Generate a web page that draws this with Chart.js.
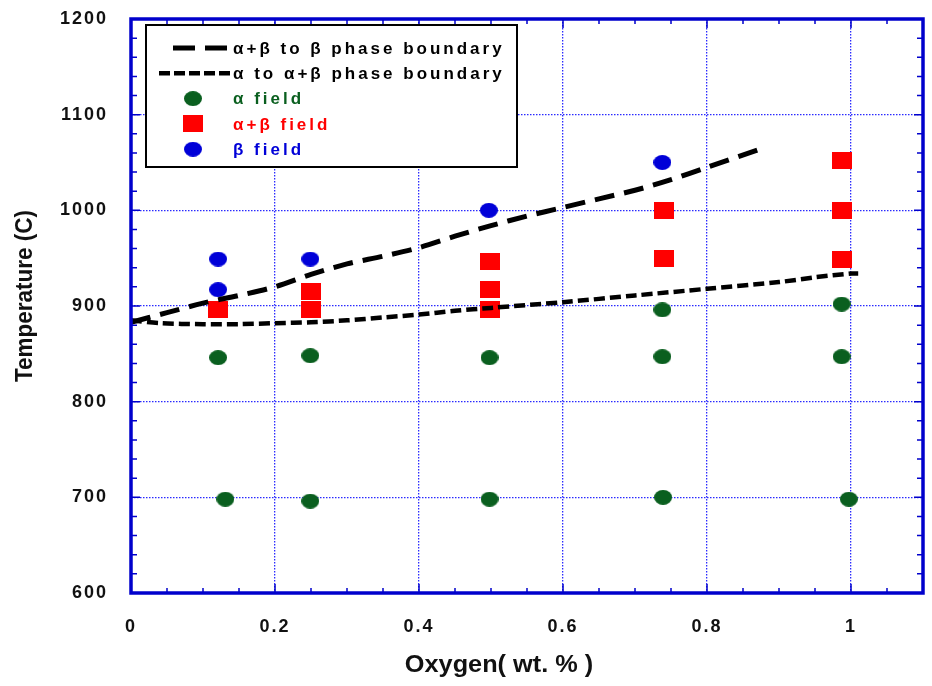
<!DOCTYPE html>
<html>
<head>
<meta charset="utf-8">
<script src="https://cdn.jsdelivr.net/npm/chart.js@4.4.1/dist/chart.umd.min.js"></script>
<style>
  html, body { margin: 0; padding: 0; background: #fff; }
  #wrap { width: 932px; height: 686px; position: relative; }
</style>
</head>
<body>
<div id="wrap"><canvas id="phase"></canvas></div>
<script>
// values: oxygen (wt.%) and temperature (C)
const alphaX = [0.131, 0.249, 0.498, 0.739, 0.997, 0.121, 0.249, 0.498, 0.738, 0.987, 0.738, 0.987];
const alphaT = [698, 696, 698, 700, 698, 846, 848, 846, 847, 847, 896, 902];

const alphaBetaX = [0.121, 0.250, 0.250, 0.499, 0.499, 0.499, 0.740, 0.740, 0.988, 0.988, 0.988];
const alphaBetaT = [896, 915, 896, 946, 917, 896, 1000, 950, 1052, 1000, 949];

const betaX = [0.121, 0.121, 0.249, 0.497, 0.738];
const betaT = [949, 917, 949, 1000, 1050];

// alpha+beta -> beta boundary (long dashes)
const upperX = [0, 0.05, 0.1, 0.15, 0.2, 0.25, 0.3, 0.35, 0.4, 0.45, 0.5, 0.55, 0.6, 0.65, 0.7, 0.75, 0.8, 0.87];
const upperT = [883, 893, 903, 911, 920, 933, 944, 952, 961, 973, 984, 994, 1003, 1012, 1021, 1032, 1045, 1063];

// alpha -> alpha+beta boundary (short dashes)
const lowerX = [0, 0.04, 0.1, 0.15, 0.2, 0.25, 0.3, 0.35, 0.4, 0.45, 0.5, 0.6, 0.7, 0.8, 0.9, 0.95, 1.0, 1.01];
const lowerT = [885, 882, 881, 881, 882, 883, 885, 888, 891, 895, 898, 904, 911, 918, 925, 930, 934, 934];

const seriesNames = ['α+β to β phase boundary', 'α to α+β phase boundary', 'α field', 'α+β field', 'β field'];

const xTitle = 'Oxygen( wt. % )';
const yTitle = 'Temperature (C)';

const FONT = "'Liberation Sans', Arial, sans-serif";
const BLUE = '#0000cc';
const GRID_BLUE = '#2a2aff';
const GREEN = '#0a5f1f';
const RED = '#ff0000';
const DOT_BLUE = '#0000d8';

function toPoints(xs, ys) {
  return xs.map((x, i) => ({ x: x, y: ys[i] }));
}

// small canvases used as point styles (slightly oval dots, flat squares)
function marker(w, h, color, round) {
  const c = document.createElement('canvas');
  c.width = w; c.height = h;
  const g = c.getContext('2d');
  g.fillStyle = color;
  if (round) {
    g.beginPath();
    g.ellipse(w / 2, h / 2, w / 2, h / 2, 0, 0, Math.PI * 2);
    g.fill();
  } else {
    g.fillRect(0, 0, w, h);
  }
  return c;
}
const greenDot = marker(18, 15, GREEN, true);
const redSquare = marker(20, 17, RED, false);
const blueDot = marker(18, 15, DOT_BLUE, true);

function isMajorX(v) {
  return Math.abs(v * 5 - Math.round(v * 5)) < 1e-6 && v < 1.05;
}

const gridColor = (ctx) => {
  const v = ctx.tick ? ctx.tick.value : null;
  if (v === null) return 'rgba(0,0,0,0)';
  if (ctx.scale.axis === 'x') {
    return (v > 0.01 && isMajorX(v)) ? GRID_BLUE : 'rgba(0,0,0,0)';
  }
  return (v > 600 && v < 1200) ? GRID_BLUE : 'rgba(0,0,0,0)';
};

// keep the plot box fixed: no extra room for overhanging labels
function fixBox(s, size) {
  if (s.isHorizontal()) s.height = size; else s.width = size;
  s.paddingTop = 0; s.paddingBottom = 0;
  s.paddingLeft = 0; s.paddingRight = 0;
}

// inward ticks on all four sides + blue frame
const frameTicks = {
  id: 'frameTicks',
  beforeDraw(chart) {
    chart.ctx.letterSpacing = '2px';
  },
  afterDraw(chart) {
    const ctx = chart.ctx;
    const { left, right, top, bottom } = chart.chartArea;
    const xs = chart.scales.x, ys = chart.scales.y;
    ctx.save();
    ctx.strokeStyle = BLUE;
    ctx.lineWidth = 1.5;
    ctx.beginPath();
    for (let i = 0; i <= 22; i++) {
      const v = i * 0.05;
      const px = xs.getPixelForValue(v);
      const len = isMajorX(v) ? 9 : 5;
      ctx.moveTo(px, bottom); ctx.lineTo(px, bottom - len);
      ctx.moveTo(px, top); ctx.lineTo(px, top + len);
    }
    for (let i = 0; i <= 30; i++) {
      const v = 600 + i * 20;
      const py = ys.getPixelForValue(v);
      const len = (i % 5 === 0) ? 9 : 6;
      ctx.moveTo(left, py); ctx.lineTo(left + len, py);
      ctx.moveTo(right, py); ctx.lineTo(right - len, py);
    }
    ctx.stroke();
    ctx.lineWidth = 3.5;
    ctx.strokeRect(left, top, right - left, bottom - top);

    // axis titles
    ctx.letterSpacing = '0px';
    ctx.fillStyle = '#111';
    ctx.textAlign = 'center';
    ctx.textBaseline = 'alphabetic';
    ctx.font = 'bold 23px ' + FONT;
    ctx.save();
    ctx.translate(499, 672);
    ctx.scale(1.1, 1);
    ctx.fillText(xTitle, 0, 0);
    ctx.restore();

    ctx.font = 'bold 22.5px ' + FONT;
    ctx.save();
    ctx.translate(31.5, 296);
    ctx.rotate(-Math.PI / 2);
    ctx.scale(1, 1.1);
    ctx.fillText(yTitle, 0, 0);
    ctx.restore();
    ctx.restore();
  }
};

// boxed legend inside the plot, upper left
const boxLegend = {
  id: 'boxLegend',
  afterDraw(chart) {
    const ctx = chart.ctx;
    const bx = 146, by = 25, bw = 371, bh = 142;
    ctx.save();
    ctx.fillStyle = '#fff';
    ctx.fillRect(bx, by, bw, bh);
    ctx.strokeStyle = '#000';
    ctx.lineWidth = 2;
    ctx.strokeRect(bx, by, bw, bh);

    const rowY = (i) => by + 23 + i * 25.3;
    const textX = 233, markX = 193;
    const colors = ['#000', '#000', GREEN, RED, DOT_BLUE];

    ctx.strokeStyle = '#000';
    ctx.lineWidth = 5;
    ctx.setLineDash([22, 10]);
    ctx.beginPath(); ctx.moveTo(173, rowY(0)); ctx.lineTo(227, rowY(0)); ctx.stroke();
    ctx.lineWidth = 4.5;
    ctx.setLineDash([11, 4]);
    ctx.beginPath(); ctx.moveTo(159, rowY(1)); ctx.lineTo(230, rowY(1)); ctx.stroke();
    ctx.setLineDash([]);

    [greenDot, redSquare, blueDot].forEach((img, k) => {
      ctx.drawImage(img, markX - img.width / 2, rowY(k + 2) - img.height / 2);
    });

    ctx.font = 'bold 17px ' + FONT;
    ctx.letterSpacing = '3px';
    ctx.textAlign = 'left';
    ctx.textBaseline = 'middle';
    seriesNames.forEach((name, i) => {
      ctx.fillStyle = colors[i];
      ctx.fillText(name, textX, rowY(i) + 1);
    });
    ctx.restore();
  }
};

const tickFont = { family: FONT, size: 18, weight: 'bold' };

new Chart(document.getElementById('phase').getContext('2d'), {
  type: 'scatter',
  data: {
    datasets: [
      {
        label: seriesNames[0],
        data: toPoints(upperX, upperT),
        showLine: true,
        borderColor: '#000',
        borderWidth: 5,
        borderDash: [20, 10],
        tension: 0.3,
        pointRadius: 0
      },
      {
        label: seriesNames[1],
        data: toPoints(lowerX, lowerT),
        showLine: true,
        borderColor: '#000',
        borderWidth: 4.5,
        borderDash: [11, 5],
        tension: 0.3,
        pointRadius: 0
      },
      {
        label: seriesNames[2],
        data: toPoints(alphaX, alphaT),
        pointStyle: greenDot,
        pointRadius: 8
      },
      {
        label: seriesNames[3],
        data: toPoints(alphaBetaX, alphaBetaT),
        pointStyle: redSquare,
        pointRadius: 8
      },
      {
        label: seriesNames[4],
        data: toPoints(betaX, betaT),
        pointStyle: blueDot,
        pointRadius: 8
      }
    ]
  },
  options: {
    responsive: true,
    maintainAspectRatio: false,
    animation: false,
    layout: { padding: { top: 19, right: 8, left: 0, bottom: 0 } },
    plugins: {
      legend: { display: false },
      tooltip: { enabled: false }
    },
    scales: {
      x: {
        type: 'linear',
        min: 0,
        max: 1.1,
        ticks: {
          stepSize: 0.2,
          autoSkip: false,
          maxRotation: 0,
          padding: 23,
          color: '#111',
          font: tickFont,
          callback: (v) => isMajorX(v) ? String(Math.round(v * 10) / 10) : ''
        },
        grid: { drawTicks: false, color: gridColor, lineWidth: 1.3 },
        border: { display: false, dash: [1.5, 1.5] },
        afterFit: (s) => fixBox(s, 93)
      },
      y: {
        type: 'linear',
        min: 600,
        max: 1200,
        ticks: {
          stepSize: 100,
          padding: 23,
          color: '#111',
          font: tickFont,
          callback: (v) => String(v)
        },
        grid: { drawTicks: false, color: gridColor, lineWidth: 1.3 },
        border: { display: false, dash: [1.5, 1.5] },
        afterFit: (s) => fixBox(s, 131)
      }
    }
  },
  plugins: [frameTicks, boxLegend]
});
</script>
</body>
</html>
